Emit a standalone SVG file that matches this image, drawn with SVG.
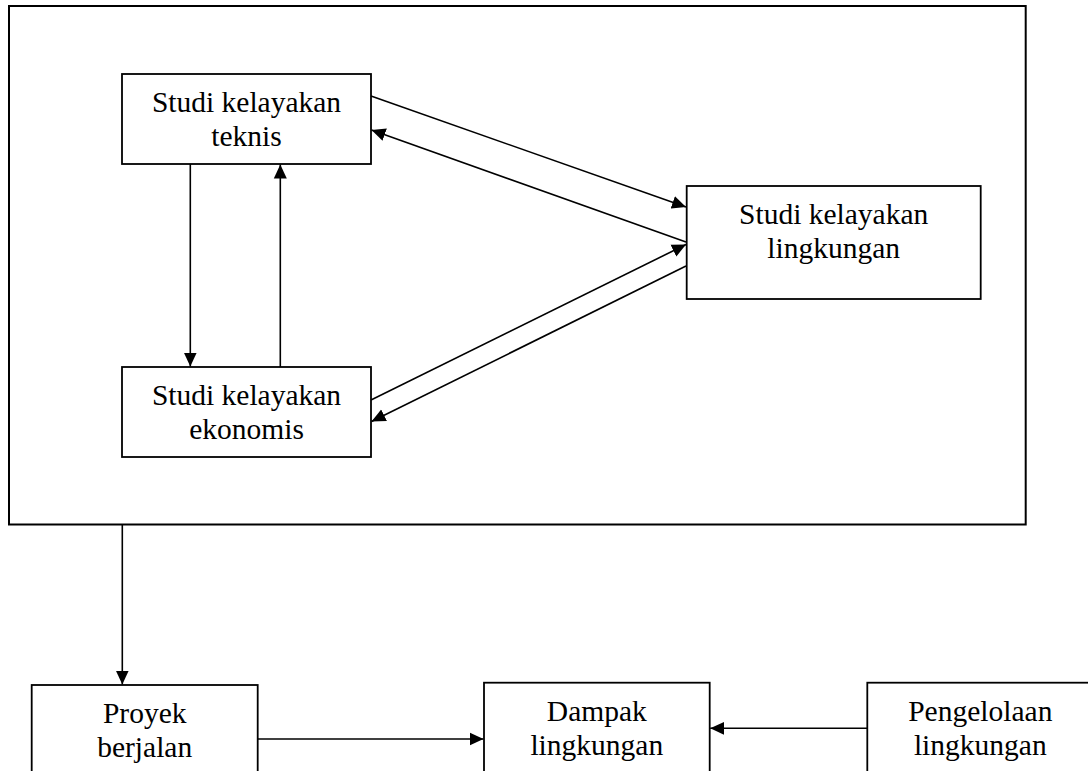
<svg xmlns="http://www.w3.org/2000/svg" width="1088" height="771" viewBox="0 0 1088 771">
<style>
.box{fill:#fff;stroke:#000;stroke-width:1.8}
.frame{fill:none;stroke:#000;stroke-width:2}
.lbl{font-family:"Liberation Serif","Times New Roman",serif;font-size:29.5px;fill:#000;text-anchor:middle}
.con{stroke:#000;stroke-width:1.6;fill:none;marker-end:url(#ah)}
</style>
<defs>
<marker id="ah" markerUnits="userSpaceOnUse" markerWidth="15" markerHeight="14" refX="14" refY="7" orient="auto">
<path d="M0,0.5 L14,7 L0,13.5 z" fill="#000"/>
</marker>
</defs>
<rect width="1088" height="771" fill="#fff"/>
<g id="frame"><rect class="frame" x="9" y="6" width="1016.7" height="518.5"/></g>
<g id="teknis">
<rect class="box" x="122" y="74" width="249" height="90"/>
<text class="lbl" x="246.5" y="111.5">Studi kelayakan</text>
<text class="lbl" x="246.5" y="145.5">teknis</text>
</g>
<g id="ekonomis">
<rect class="box" x="122" y="367" width="249" height="90"/>
<text class="lbl" x="246.5" y="404.5">Studi kelayakan</text>
<text class="lbl" x="246.5" y="438.5">ekonomis</text>
</g>
<g id="lingkungan">
<rect class="box" x="686.7" y="186" width="294" height="113"/>
<text class="lbl" x="833.7" y="224">Studi kelayakan</text>
<text class="lbl" x="833.7" y="258">lingkungan</text>
</g>
<g id="proyek">
<rect class="box" x="31.7" y="685" width="226" height="110"/>
<text class="lbl" x="144.7" y="723">Proyek</text>
<text class="lbl" x="144.7" y="757">berjalan</text>
</g>
<g id="dampak">
<rect class="box" x="484" y="682.7" width="225.7" height="110"/>
<text class="lbl" x="596.8" y="721">Dampak</text>
<text class="lbl" x="596.8" y="755">lingkungan</text>
</g>
<g id="pengelolaan">
<rect class="box" x="867.3" y="682.7" width="226" height="110"/>
<text class="lbl" x="980.3" y="721">Pengelolaan</text>
<text class="lbl" x="980.3" y="755">lingkungan</text>
</g>
<g id="connectors">
<line class="con" x1="371" y1="96" x2="686" y2="207"/>
<line class="con" x1="686" y1="242" x2="371.5" y2="130"/>
<line class="con" x1="371" y1="400" x2="686" y2="244.5"/>
<line class="con" x1="686" y1="266" x2="371.5" y2="421.5"/>
<line class="con" x1="190.3" y1="164" x2="190.3" y2="366.5"/>
<line class="con" x1="280.3" y1="367" x2="280.3" y2="164.5"/>
<line class="con" x1="122.3" y1="524.5" x2="122.3" y2="684.5"/>
<line class="con" x1="257.7" y1="739" x2="483.5" y2="739"/>
<line class="con" x1="867.3" y1="728.3" x2="710.2" y2="728.3"/>
</g>
</svg>
